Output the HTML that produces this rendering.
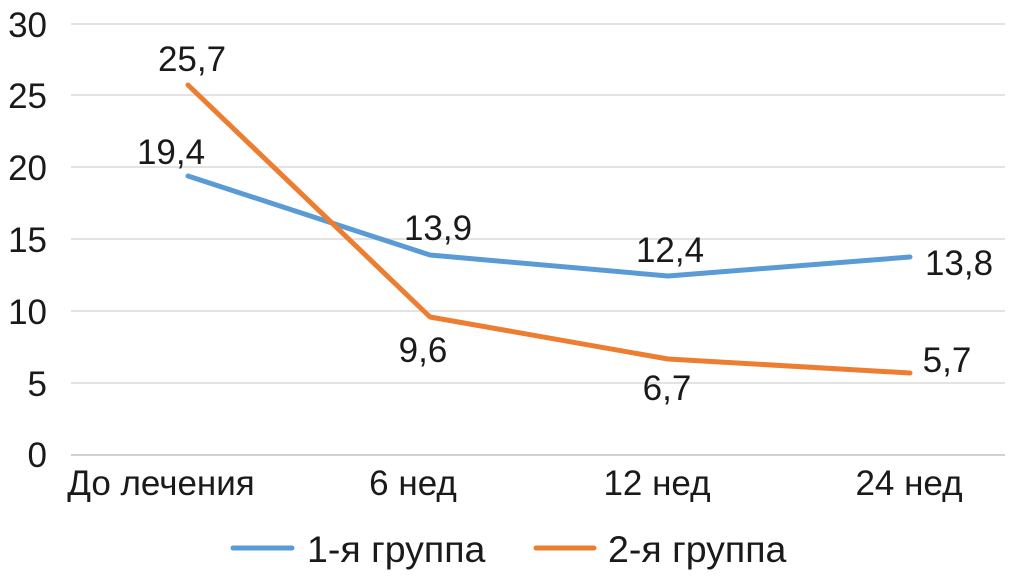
<!DOCTYPE html>
<html><head><meta charset="utf-8"><style>
html,body{margin:0;padding:0;background:#fff;}
svg text{font-family:"Liberation Sans",Arial,sans-serif;fill:#1a1a1a;}
</style></head><body>
<svg width="1023" height="574" xmlns="http://www.w3.org/2000/svg">
<g stroke="#e3e3e3" stroke-width="2">
<line x1="71" y1="24" x2="1005" y2="24"/>
<line x1="71" y1="95" x2="1005" y2="95"/>
<line x1="71" y1="167" x2="1005" y2="167"/>
<line x1="71" y1="239" x2="1005" y2="239"/>
<line x1="71" y1="311" x2="1005" y2="311"/>
<line x1="71" y1="383" x2="1005" y2="383"/>
</g>
<line x1="71" y1="455" x2="1005" y2="455" stroke="#d0d0d0" stroke-width="2"/>
<g font-size="35" text-anchor="end">
<text x="47" y="37">30</text>
<text x="47" y="108">25</text>
<text x="47" y="180">20</text>
<text x="47" y="252">15</text>
<text x="47" y="324">10</text>
<text x="47" y="396">5</text>
<text x="47" y="467">0</text>
</g>
<g font-size="35" text-anchor="middle">
<text x="161" y="495">До лечения</text>
<text x="413" y="495">6 нед</text>
<text x="657" y="495">12 нед</text>
<text x="909" y="495">24 нед</text>
</g>
<polyline points="188,176 430,255 668,276 910,257" fill="none" stroke="#5b9bd5" stroke-width="5" stroke-linejoin="round" stroke-linecap="round"/>
<polyline points="188,85 430,317 668,359 910,373" fill="none" stroke="#ed7d31" stroke-width="5" stroke-linejoin="round" stroke-linecap="round"/>
<g font-size="35" text-anchor="middle">
<text x="192" y="71">25,7</text>
<text x="171" y="164">19,4</text>
<text x="438" y="240">13,9</text>
<text x="670" y="262">12,4</text>
<text x="959" y="275">13,8</text>
<text x="423" y="362">9,6</text>
<text x="667" y="400">6,7</text>
<text x="947" y="372">5,7</text>
</g>
<line x1="233" y1="548" x2="292" y2="548" stroke="#5b9bd5" stroke-width="5" stroke-linecap="round"/>
<text x="307" y="562" font-size="37.5">1-я группа</text>
<line x1="536" y1="548" x2="594" y2="548" stroke="#ed7d31" stroke-width="5" stroke-linecap="round"/>
<text x="608" y="562" font-size="37.5">2-я группа</text>
</svg>
</body></html>
